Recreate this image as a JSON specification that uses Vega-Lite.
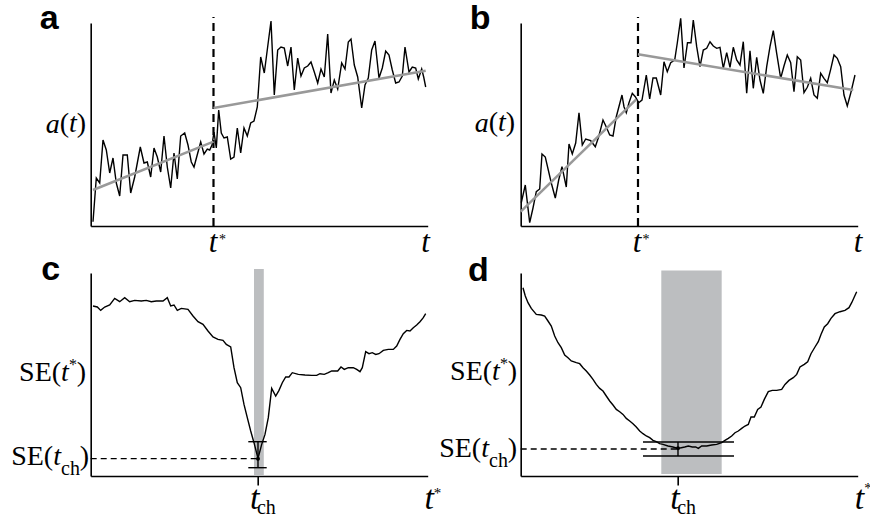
{
  "$schema": "https://vega.github.io/schema/vega-lite/v6.json",
  "padding": {"left": 10.7, "top": 1, "right": 0, "bottom": 0},
  "background": "white",
  "config": {
    "view": {"stroke": null},
    "title": {"anchor": "start", "frame": "group", "baseline": "alphabetic", "font": "Liberation Sans", "fontSize": 34, "fontWeight": "bold", "color": "black", "dy": 15},
    "axis": {"grid": false, "domainColor": "black", "domainWidth": 1.6, "labelFont": "Liberation Serif", "labelColor": "black", "labelOverlap": false, "labelFlush": false, "ticks": false}
  },
  "datasets": {
    "a_line": [
      {"t":2.3,"v":4.3},{"t":5.6,"v":48},{"t":9,"v":43},{"t":12.3,"v":86},{"t":15.6,"v":76},{"t":19,"v":53},{"t":22.3,"v":68},{"t":25.6,"v":43},{"t":29,"v":30},{"t":32.3,"v":71},{"t":36.6,"v":71},{"t":40,"v":33},{"t":44,"v":49},{"t":49.6,"v":79},{"t":53.3,"v":63},{"t":56.6,"v":64},{"t":60,"v":49},{"t":63.3,"v":78},{"t":66.6,"v":69},{"t":70,"v":54},{"t":73.3,"v":90},{"t":76.6,"v":59},{"t":80,"v":38},{"t":83.3,"v":73},{"t":86.6,"v":47},{"t":90,"v":90},{"t":94,"v":93},{"t":97.3,"v":81},{"t":100.6,"v":64},{"t":103.3,"v":59},{"t":110,"v":84},{"t":113.3,"v":72},{"t":116.6,"v":77},{"t":119,"v":76},{"t":121.3,"v":81},{"t":123.3,"v":94},{"t":125.6,"v":78},{"t":128,"v":116},{"t":130.6,"v":93},{"t":133.3,"v":88},{"t":136.6,"v":89},{"t":140,"v":67},{"t":143.3,"v":69},{"t":146.6,"v":98},{"t":150,"v":73},{"t":153.3,"v":98},{"t":156.6,"v":90},{"t":160,"v":103},{"t":163.3,"v":105},{"t":166.6,"v":119},{"t":170,"v":169},{"t":173.6,"v":153},{"t":180.3,"v":205},{"t":183.6,"v":131},{"t":187,"v":176},{"t":190.3,"v":179},{"t":193.6,"v":178},{"t":197,"v":160},{"t":200.3,"v":179},{"t":203.6,"v":136},{"t":207,"v":168},{"t":210.3,"v":150},{"t":213.6,"v":158},{"t":217,"v":160},{"t":220.3,"v":164},{"t":223.6,"v":154},{"t":227,"v":143},{"t":230.3,"v":157},{"t":233.6,"v":149},{"t":237,"v":192},{"t":240.3,"v":133},{"t":243.6,"v":146},{"t":247,"v":137},{"t":251,"v":163},{"t":254.3,"v":157},{"t":257.6,"v":184},{"t":260.3,"v":187},{"t":263.6,"v":161},{"t":267,"v":149},{"t":271,"v":118},{"t":274.3,"v":141},{"t":277.6,"v":148},{"t":281,"v":176},{"t":284.3,"v":185},{"t":288.3,"v":148},{"t":291.6,"v":158},{"t":295,"v":175},{"t":298.3,"v":171},{"t":301.6,"v":156},{"t":305,"v":143},{"t":308.3,"v":144},{"t":311.6,"v":150},{"t":314.3,"v":179},{"t":318.3,"v":154},{"t":321.6,"v":159},{"t":325,"v":158},{"t":327.6,"v":147},{"t":331,"v":157},{"t":333,"v":149},{"t":335,"v":139}
    ],
    "a_fit": [
      {"t":2.3,"v":36,"seg":1},{"t":122.8,"v":84.3,"seg":1},
      {"t":122.8,"v":118,"seg":2},{"t":335,"v":155.3,"seg":2}
    ],
    "b_line": [
      {"t":0.6,"v":23.3},{"t":4.6,"v":41},{"t":9,"v":3.3},{"t":12.3,"v":18},{"t":15.6,"v":34.3},{"t":19,"v":37},{"t":21.3,"v":72},{"t":24.6,"v":69},{"t":30.6,"v":43},{"t":34.6,"v":28},{"t":38,"v":46},{"t":41.3,"v":59.3},{"t":45.6,"v":39},{"t":48.3,"v":82},{"t":51.6,"v":72},{"t":55,"v":83},{"t":58.3,"v":113.3},{"t":61.6,"v":81},{"t":65,"v":87},{"t":70,"v":85.3},{"t":74.6,"v":79.3},{"t":78,"v":89.3},{"t":82.3,"v":106},{"t":85.6,"v":99},{"t":89,"v":91},{"t":92.3,"v":90},{"t":95.6,"v":109.3},{"t":101.3,"v":131},{"t":103.3,"v":119.3},{"t":105.6,"v":113.3},{"t":108.3,"v":123.3},{"t":111.6,"v":132.7},{"t":114.6,"v":129.3},{"t":118,"v":123.3},{"t":121.3,"v":126},{"t":125.6,"v":151},{"t":129,"v":127},{"t":132.3,"v":148},{"t":135.6,"v":148},{"t":140,"v":131},{"t":143.3,"v":164.3},{"t":146.6,"v":154.3},{"t":150,"v":163.3},{"t":154,"v":166},{"t":156.6,"v":183},{"t":160,"v":207.7},{"t":163.3,"v":158},{"t":166.8,"v":183.3},{"t":170.3,"v":183.3},{"t":172.6,"v":206},{"t":176,"v":179.3},{"t":179.3,"v":159.3},{"t":182.6,"v":176},{"t":186,"v":177.7},{"t":189.3,"v":184.3},{"t":192.6,"v":180},{"t":196,"v":177.7},{"t":199.3,"v":178.7},{"t":202.6,"v":157.7},{"t":206,"v":173.3},{"t":209.3,"v":158.7},{"t":212.6,"v":178.7},{"t":216,"v":166},{"t":219.3,"v":161},{"t":222.6,"v":184.3},{"t":226,"v":132.7},{"t":229.3,"v":175.3},{"t":232.6,"v":137.7},{"t":236,"v":168.7},{"t":239.3,"v":146},{"t":242.6,"v":132.7},{"t":246,"v":159.3},{"t":249.3,"v":179.3},{"t":252.6,"v":195.3},{"t":256,"v":172.7},{"t":260,"v":147.7},{"t":263.3,"v":160},{"t":266.6,"v":171},{"t":270,"v":163.3},{"t":273.3,"v":134.3},{"t":276.6,"v":169.3},{"t":280,"v":166},{"t":283.3,"v":133.3},{"t":286.6,"v":138.7},{"t":290,"v":147.7},{"t":293.3,"v":131},{"t":296.6,"v":127.7},{"t":300,"v":152.7},{"t":303.3,"v":147.7},{"t":306.6,"v":143.3},{"t":310,"v":156.7},{"t":313.3,"v":171},{"t":316.6,"v":167.7},{"t":320,"v":159.3},{"t":323.3,"v":131},{"t":326.6,"v":120},{"t":330,"v":132.7},{"t":334.3,"v":151}
    ],
    "b_fit": [
      {"t":0,"v":14.3,"seg":1},{"t":115.6,"v":126.7,"seg":1},
      {"t":117.3,"v":171.7,"seg":2},{"t":332.6,"v":136,"seg":2}
    ],
    "c_line": [
      {"t":2.3,"v":170},{"t":6.6,"v":169},{"t":10,"v":165.6},{"t":14,"v":169},{"t":19,"v":171},{"t":24,"v":177.6},{"t":29,"v":174.3},{"t":34,"v":178.3},{"t":39,"v":174.3},{"t":44,"v":175.6},{"t":50.6,"v":175},{"t":55.6,"v":175.6},{"t":60.6,"v":174.3},{"t":65.6,"v":175},{"t":72.3,"v":175},{"t":76.6,"v":178.3},{"t":80,"v":170},{"t":83.3,"v":171},{"t":86.6,"v":165.6},{"t":90.6,"v":167.6},{"t":97.3,"v":166.6},{"t":102.3,"v":160},{"t":107.3,"v":154.3},{"t":112.3,"v":151.6},{"t":117.3,"v":145},{"t":122.3,"v":139},{"t":127.3,"v":136.6},{"t":132.3,"v":135.6},{"t":135.6,"v":131.6},{"t":140,"v":129},{"t":143.3,"v":108.3},{"t":146.6,"v":93.3},{"t":150,"v":88.3},{"t":153.3,"v":71.6},{"t":156.6,"v":58.3},{"t":160,"v":45},{"t":163.3,"v":33.3},{"t":167.3,"v":17.6},{"t":171,"v":31.6},{"t":174.3,"v":41.6},{"t":177.6,"v":58.3},{"t":181,"v":87.6},{"t":185,"v":80},{"t":188.3,"v":85.6},{"t":191.6,"v":93.3},{"t":195,"v":99},{"t":198.3,"v":99},{"t":201.6,"v":103.3},{"t":207.6,"v":101.6},{"t":214.3,"v":101},{"t":221,"v":100.6},{"t":226,"v":100.6},{"t":229.3,"v":102.3},{"t":233.6,"v":101.6},{"t":237.6,"v":103.3},{"t":241,"v":105},{"t":247,"v":105},{"t":250.3,"v":109},{"t":253.6,"v":106.6},{"t":257.6,"v":108.3},{"t":262.6,"v":108.3},{"t":266,"v":106.6},{"t":269.3,"v":104.3},{"t":271.6,"v":108.3},{"t":275,"v":124.3},{"t":278.3,"v":122.3},{"t":281.6,"v":123.3},{"t":285,"v":121.6},{"t":288.3,"v":122.3},{"t":292.6,"v":125.6},{"t":297.6,"v":126.6},{"t":302.6,"v":126.6},{"t":306,"v":130},{"t":309.3,"v":136.6},{"t":312.6,"v":142.3},{"t":316,"v":145.6},{"t":319.3,"v":145},{"t":322.6,"v":148.3},{"t":326,"v":151},{"t":329.3,"v":154.3},{"t":332.6,"v":158.3},{"t":335,"v":162.3}
    ],
    "d_line": [
      {"t":2.3,"v":188.3},{"t":4.6,"v":180},{"t":7.3,"v":173.3},{"t":10.6,"v":167.6},{"t":15.6,"v":161.6},{"t":20.6,"v":161},{"t":24,"v":160},{"t":27.3,"v":155},{"t":30.6,"v":150},{"t":34,"v":140},{"t":37.3,"v":133.3},{"t":40.6,"v":128.3},{"t":44,"v":121},{"t":47.3,"v":118.3},{"t":50.6,"v":115},{"t":55.6,"v":113.3},{"t":59,"v":112.3},{"t":62.3,"v":108.3},{"t":65.6,"v":105},{"t":69,"v":101},{"t":72.3,"v":96.6},{"t":75.6,"v":91.6},{"t":79,"v":87.6},{"t":82.3,"v":85},{"t":85.6,"v":80},{"t":89,"v":75},{"t":92.3,"v":71},{"t":95.6,"v":66.6},{"t":99,"v":64.3},{"t":102.3,"v":61.6},{"t":105.6,"v":57.6},{"t":109,"v":55},{"t":112.3,"v":52.3},{"t":115.6,"v":49},{"t":119,"v":45},{"t":122.3,"v":42.3},{"t":125.6,"v":40},{"t":129,"v":38.3},{"t":132.3,"v":35.6},{"t":135.6,"v":34.3},{"t":139,"v":32.3},{"t":142.3,"v":31.6},{"t":147.3,"v":30},{"t":152.3,"v":29},{"t":157.3,"v":27.6},{"t":160.6,"v":28.3},{"t":164,"v":29},{"t":167.6,"v":30},{"t":171.6,"v":29},{"t":175,"v":29},{"t":177.6,"v":27.6},{"t":181,"v":30},{"t":186,"v":30},{"t":191,"v":31},{"t":196,"v":31.6},{"t":201,"v":33.3},{"t":204.3,"v":35.6},{"t":207.6,"v":37.6},{"t":211,"v":40},{"t":214.3,"v":43.3},{"t":217.6,"v":45},{"t":221,"v":47.6},{"t":224.3,"v":50},{"t":227.6,"v":51.6},{"t":230.3,"v":59},{"t":233.6,"v":59},{"t":237,"v":66.6},{"t":240.3,"v":69},{"t":243.6,"v":76.6},{"t":247.6,"v":84.3},{"t":251.6,"v":85.6},{"t":256,"v":85.6},{"t":261,"v":86.6},{"t":264.3,"v":91.6},{"t":268.3,"v":95.6},{"t":272.6,"v":98.3},{"t":276,"v":101.6},{"t":279.3,"v":109},{"t":283.6,"v":111.6},{"t":287,"v":114.3},{"t":290.3,"v":122.3},{"t":294.3,"v":129},{"t":297.6,"v":134.3},{"t":300.3,"v":141.6},{"t":303.6,"v":149},{"t":307,"v":152.3},{"t":310.3,"v":157.6},{"t":314.3,"v":162.3},{"t":319.3,"v":164.3},{"t":324.3,"v":165.6},{"t":328.3,"v":168.3},{"t":331,"v":173.3},{"t":333.6,"v":179},{"t":336,"v":184.3}
    ]
  },
  "concat": [
    {
      "width": 337, "height": 203,
      "title": {"text": "a", "dx": -51, "offset": -5},
      "resolve": {"axis": {"x": "independent", "y": "independent"}},
      "layer": [
        {
          "data": {"values": [{"t": 122.8, "lo": 0, "hi": 209}]},
          "mark": {"type": "rule", "strokeDash": [8, 5], "strokeWidth": 2.2, "color": "black"},
          "encoding": {
            "x": {"field": "t", "type": "quantitative", "scale": {"domain": [0, 337], "nice": false}, "axis": null},
            "y": {"field": "lo", "type": "quantitative", "scale": {"domain": [0, 203], "nice": false}, "axis": null},
            "y2": {"field": "hi"}
          }
        },
        {
          "data": {"name": "a_line"},
          "mark": {"type": "line", "color": "black", "strokeWidth": 1.4},
          "encoding": {
            "x": {"field": "t", "type": "quantitative", "scale": {"domain": [0, 337], "nice": false},
              "axis": {"orient": "bottom", "title": null, "values": [121.8, 131.3, 334.3],
                "labelExpr": "datum.value == 131.3 ? '*' : 't'",
                "labelAlign": "center", "labelBaseline": "alphabetic",
                "labelFontStyle": {"condition": {"test": "datum.value == 131.3", "value": "normal"}, "value": "italic"},
                "labelFontSize": {"condition": {"test": "datum.value == 131.3", "value": 14}, "value": 31},
                "labelPadding": {"condition": {"test": "datum.value == 131.3", "value": 17.8}, "value": 25.5}}},
            "y": {"field": "v", "type": "quantitative", "scale": {"domain": [0, 203], "nice": false},
              "axis": {"orient": "left", "title": null, "values": [102, 102.01, 102.02, 102.03],
                "labelExpr": "datum.value == 102 ? 'a' : datum.value == 102.01 ? '(' : datum.value == 102.02 ? 't' : ')'",
                "labelAlign": "right", "labelBaseline": "middle", "labelFontSize": 28,
                "labelFontStyle": {"condition": {"test": "datum.value == 102 || datum.value == 102.02", "value": "italic"}, "value": "normal"},
                "labelPadding": {"condition": [{"test": "datum.value == 102", "value": 31.4}, {"test": "datum.value == 102.01", "value": 22.1}, {"test": "datum.value == 102.02", "value": 14.3}], "value": 5}}}
          }
        },
        {
          "data": {"name": "a_fit"},
          "mark": {"type": "line", "color": "#999999", "strokeWidth": 2.5},
          "encoding": {
            "x": {"field": "t", "type": "quantitative", "scale": {"domain": [0, 337], "nice": false}, "axis": null},
            "y": {"field": "v", "type": "quantitative", "scale": {"domain": [0, 203], "nice": false}, "axis": null},
            "detail": {"field": "seg", "type": "nominal"}
          }
        }
      ]
    },
    {
      "width": 337, "height": 203,
      "title": {"text": "b", "dx": -51, "offset": -5},
      "resolve": {"axis": {"x": "independent", "y": "independent"}},
      "layer": [
        {
          "data": {"values": [{"t": 117.3, "lo": 0, "hi": 209}]},
          "mark": {"type": "rule", "strokeDash": [8, 5], "strokeWidth": 2.2, "color": "black"},
          "encoding": {
            "x": {"field": "t", "type": "quantitative", "scale": {"domain": [0, 337], "nice": false}, "axis": null},
            "y": {"field": "lo", "type": "quantitative", "scale": {"domain": [0, 203], "nice": false}, "axis": null},
            "y2": {"field": "hi"}
          }
        },
        {
          "data": {"name": "b_line"},
          "mark": {"type": "line", "color": "black", "strokeWidth": 1.4},
          "encoding": {
            "x": {"field": "t", "type": "quantitative", "scale": {"domain": [0, 337], "nice": false},
              "axis": {"orient": "bottom", "title": null, "values": [115.8, 124.8, 336.8],
                "labelExpr": "datum.value == 124.8 ? '*' : 't'",
                "labelAlign": "center", "labelBaseline": "alphabetic",
                "labelFontStyle": {"condition": {"test": "datum.value == 124.8", "value": "normal"}, "value": "italic"},
                "labelFontSize": {"condition": {"test": "datum.value == 124.8", "value": 14}, "value": 31},
                "labelPadding": {"condition": {"test": "datum.value == 124.8", "value": 17.8}, "value": 25.5}}},
            "y": {"field": "v", "type": "quantitative", "scale": {"domain": [0, 203], "nice": false},
              "axis": {"orient": "left", "title": null, "values": [103, 103.01, 103.02, 103.03],
                "labelExpr": "datum.value == 103 ? 'a' : datum.value == 103.01 ? '(' : datum.value == 103.02 ? 't' : ')'",
                "labelAlign": "right", "labelBaseline": "middle", "labelFontSize": 28,
                "labelFontStyle": {"condition": {"test": "datum.value == 103 || datum.value == 103.02", "value": "italic"}, "value": "normal"},
                "labelPadding": {"condition": [{"test": "datum.value == 103", "value": 32.4}, {"test": "datum.value == 103.01", "value": 23.1}, {"test": "datum.value == 103.02", "value": 15.3}], "value": 6}}}
          }
        },
        {
          "data": {"name": "b_fit"},
          "mark": {"type": "line", "color": "#999999", "strokeWidth": 2.5},
          "encoding": {
            "x": {"field": "t", "type": "quantitative", "scale": {"domain": [0, 337], "nice": false}, "axis": null},
            "y": {"field": "v", "type": "quantitative", "scale": {"domain": [0, 203], "nice": false}, "axis": null},
            "detail": {"field": "seg", "type": "nominal"}
          }
        }
      ]
    },
    {
      "width": 337, "height": 203,
      "title": {"text": "c", "dx": -49.5, "offset": -3},
      "resolve": {"axis": {"x": "independent", "y": "independent"}},
      "layer": [
        {
          "data": {"values": [{"x1": 163.3, "x2": 173.1, "y1": 0, "y2": 207}]},
          "mark": {"type": "rect", "color": "#bcbec0"},
          "encoding": {
            "x": {"field": "x1", "type": "quantitative", "scale": {"domain": [0, 337], "nice": false}, "axis": null},
            "x2": {"field": "x2"},
            "y": {"field": "y1", "type": "quantitative", "scale": {"domain": [0, 203], "nice": false}, "axis": null},
            "y2": {"field": "y2"}
          }
        },
        {
          "data": {"values": [{"y": 17.3, "x1": 0, "x2": 167.3}]},
          "mark": {"type": "rule", "strokeDash": [6, 4], "strokeWidth": 1.3, "color": "black"},
          "encoding": {
            "x": {"field": "x1", "type": "quantitative", "scale": {"domain": [0, 337], "nice": false}, "axis": null},
            "x2": {"field": "x2"},
            "y": {"field": "y", "type": "quantitative", "scale": {"domain": [0, 203], "nice": false}, "axis": null}
          }
        },
        {
          "data": {"name": "c_line"},
          "mark": {"type": "line", "color": "black", "strokeWidth": 1.4},
          "encoding": {
            "x": {"field": "t", "type": "quantitative", "scale": {"domain": [0, 337], "nice": false},
              "axis": {"orient": "bottom", "title": null, "values": [163.6, 167.3, 175.2, 336.9, 336.95],
                "ticks": true, "tickSize": 9, "tickWidth": 1.6, "tickColor": "black",
                "tickOpacity": {"condition": {"test": "datum.value == 167.3", "value": 1}, "value": 0},
                "labelExpr": "datum.value == 163.6 ? 't' : datum.value == 175.2 ? 'ch' : datum.value == 336.9 ? 't' : datum.value == 336.95 ? '*' : ''",
                "labelAlign": "center", "labelBaseline": "alphabetic",
                "labelFontStyle": {"condition": {"test": "datum.value == 163.6 || datum.value == 336.9", "value": "italic"}, "value": "normal"},
                "labelFontSize": {"condition": [{"test": "datum.value == 175.2", "value": 20}, {"test": "datum.value == 336.95", "value": 15}], "value": 34},
                "labelOffset": {"condition": [{"test": "datum.value == 336.9", "value": 1}, {"test": "datum.value == 336.95", "value": 9.4}], "value": 0},
                "labelPadding": {"condition": [{"test": "datum.value == 175.2", "value": 28.5}, {"test": "datum.value == 336.95", "value": 13}], "value": 24}}},
            "y": {"field": "v", "type": "quantitative", "scale": {"domain": [0, 203], "nice": false},
              "axis": {"orient": "left", "title": null, "values": [103.5, 103.51, 111.5, 103.53, 19.6, 19.61, 7.3, 19.63],
                "labelExpr": "datum.value == 103.5 || datum.value == 19.6 ? 'SE(' : datum.value == 103.51 || datum.value == 19.61 ? 't' : datum.value == 111.5 ? '*' : datum.value == 7.3 ? 'ch' : ')'",
                "labelAlign": "right", "labelBaseline": "middle",
                "labelFontStyle": {"condition": {"test": "datum.value == 103.51 || datum.value == 19.61", "value": "italic"}, "value": "normal"},
                "labelFontSize": {"condition": [{"test": "datum.value == 111.5", "value": 16}, {"test": "datum.value == 7.3", "value": 20}], "value": 28},
                "labelPadding": {"condition": [{"test": "datum.value == 103.5", "value": 30.1}, {"test": "datum.value == 103.51", "value": 22.3}, {"test": "datum.value == 111.5", "value": 14.3}, {"test": "datum.value == 103.53", "value": 5}, {"test": "datum.value == 19.6", "value": 38}, {"test": "datum.value == 19.61", "value": 30.2}, {"test": "datum.value == 7.3", "value": 11.3}], "value": 2}}}
          }
        },
        {
          "data": {"values": [{"y": 34.3, "x1": 157.6, "x2": 176}, {"y": 8.3, "x1": 157.6, "x2": 176}]},
          "mark": {"type": "rule", "strokeWidth": 1.4, "color": "black"},
          "encoding": {
            "x": {"field": "x1", "type": "quantitative", "scale": {"domain": [0, 337], "nice": false}, "axis": null},
            "x2": {"field": "x2"},
            "y": {"field": "y", "type": "quantitative", "scale": {"domain": [0, 203], "nice": false}, "axis": null}
          }
        },
        {
          "data": {"values": [{"x": 167.3, "y1": 8.3, "y2": 34.3}]},
          "mark": {"type": "rule", "strokeWidth": 1.4, "color": "black"},
          "encoding": {
            "x": {"field": "x", "type": "quantitative", "scale": {"domain": [0, 337], "nice": false}, "axis": null},
            "y": {"field": "y1", "type": "quantitative", "scale": {"domain": [0, 203], "nice": false}, "axis": null},
            "y2": {"field": "y2"}
          }
        },
        {
          "data": {"values": [{"x": 167.3, "y": 17.3}]},
          "mark": {"type": "circle", "size": 16, "color": "black", "opacity": 1},
          "encoding": {
            "x": {"field": "x", "type": "quantitative", "scale": {"domain": [0, 337], "nice": false}, "axis": null},
            "y": {"field": "y", "type": "quantitative", "scale": {"domain": [0, 203], "nice": false}, "axis": null}
          }
        }
      ]
    },
    {
      "width": 337, "height": 203,
      "title": {"text": "d", "dx": -52.7, "offset": -3},
      "resolve": {"axis": {"x": "independent", "y": "independent"}},
      "layer": [
        {
          "data": {"values": [{"x1": 140.6, "x2": 201, "y1": 2, "y2": 205.6}]},
          "mark": {"type": "rect", "color": "#bcbec0"},
          "encoding": {
            "x": {"field": "x1", "type": "quantitative", "scale": {"domain": [0, 337], "nice": false}, "axis": null},
            "x2": {"field": "x2"},
            "y": {"field": "y1", "type": "quantitative", "scale": {"domain": [0, 203], "nice": false}, "axis": null},
            "y2": {"field": "y2"}
          }
        },
        {
          "data": {"values": [{"y": 27, "x1": 0, "x2": 157.3}]},
          "mark": {"type": "rule", "strokeDash": [6, 4], "strokeWidth": 1.3, "color": "black"},
          "encoding": {
            "x": {"field": "x1", "type": "quantitative", "scale": {"domain": [0, 337], "nice": false}, "axis": null},
            "x2": {"field": "x2"},
            "y": {"field": "y", "type": "quantitative", "scale": {"domain": [0, 203], "nice": false}, "axis": null}
          }
        },
        {
          "data": {"name": "d_line"},
          "mark": {"type": "line", "color": "black", "strokeWidth": 1.4},
          "encoding": {
            "x": {"field": "t", "type": "quantitative", "scale": {"domain": [0, 337], "nice": false},
              "axis": {"orient": "bottom", "title": null, "values": [153.8, 157.3, 165.4, 336.9, 336.95],
                "ticks": true, "tickSize": 9, "tickWidth": 1.6, "tickColor": "black",
                "tickOpacity": {"condition": {"test": "datum.value == 157.3", "value": 1}, "value": 0},
                "labelExpr": "datum.value == 153.8 ? 't' : datum.value == 165.4 ? 'ch' : datum.value == 336.9 ? 't' : datum.value == 336.95 ? '*' : ''",
                "labelAlign": "center", "labelBaseline": "alphabetic",
                "labelFontStyle": {"condition": {"test": "datum.value == 153.8 || datum.value == 336.9", "value": "italic"}, "value": "normal"},
                "labelFontSize": {"condition": [{"test": "datum.value == 165.4", "value": 20}, {"test": "datum.value == 336.95", "value": 15}], "value": 34},
                "labelOffset": {"condition": [{"test": "datum.value == 336.9", "value": 1.4}, {"test": "datum.value == 336.95", "value": 9.9}], "value": 0},
                "labelPadding": {"condition": [{"test": "datum.value == 165.4", "value": 28.5}, {"test": "datum.value == 336.95", "value": 8}], "value": 24}}},
            "y": {"field": "v", "type": "quantitative", "scale": {"domain": [0, 203], "nice": false},
              "axis": {"orient": "left", "title": null, "values": [104.3, 104.31, 112.3, 104.33, 27.6, 27.61, 15.3, 27.63],
                "labelExpr": "datum.value == 104.3 || datum.value == 27.6 ? 'SE(' : datum.value == 104.31 || datum.value == 27.61 ? 't' : datum.value == 112.3 ? '*' : datum.value == 15.3 ? 'ch' : ')'",
                "labelAlign": "right", "labelBaseline": "middle",
                "labelFontStyle": {"condition": {"test": "datum.value == 104.31 || datum.value == 27.61", "value": "italic"}, "value": "normal"},
                "labelFontSize": {"condition": [{"test": "datum.value == 112.3", "value": 16}, {"test": "datum.value == 15.3", "value": 20}], "value": 28},
                "labelPadding": {"condition": [{"test": "datum.value == 104.3", "value": 29.1}, {"test": "datum.value == 104.31", "value": 21.3}, {"test": "datum.value == 112.3", "value": 13.3}, {"test": "datum.value == 104.33", "value": 4}, {"test": "datum.value == 27.6", "value": 40}, {"test": "datum.value == 27.61", "value": 32.2}, {"test": "datum.value == 15.3", "value": 13.3}], "value": 4}}}
          }
        },
        {
          "data": {"values": [{"y": 34, "x1": 122.3, "x2": 213.3}, {"y": 20, "x1": 122.3, "x2": 213.3}]},
          "mark": {"type": "rule", "strokeWidth": 1.4, "color": "black"},
          "encoding": {
            "x": {"field": "x1", "type": "quantitative", "scale": {"domain": [0, 337], "nice": false}, "axis": null},
            "x2": {"field": "x2"},
            "y": {"field": "y", "type": "quantitative", "scale": {"domain": [0, 203], "nice": false}, "axis": null}
          }
        },
        {
          "data": {"values": [{"x": 157.3, "y1": 20, "y2": 34}]},
          "mark": {"type": "rule", "strokeWidth": 1.4, "color": "black"},
          "encoding": {
            "x": {"field": "x", "type": "quantitative", "scale": {"domain": [0, 337], "nice": false}, "axis": null},
            "y": {"field": "y1", "type": "quantitative", "scale": {"domain": [0, 203], "nice": false}, "axis": null},
            "y2": {"field": "y2"}
          }
        },
        {
          "data": {"values": [{"x": 157.3, "y": 27.8}]},
          "mark": {"type": "circle", "size": 16, "color": "black", "opacity": 1},
          "encoding": {
            "x": {"field": "x", "type": "quantitative", "scale": {"domain": [0, 337], "nice": false}, "axis": null},
            "y": {"field": "y", "type": "quantitative", "scale": {"domain": [0, 203], "nice": false}, "axis": null}
          }
        }
      ]
    }
  ],
  "columns": 2,
  "spacing": {"row": 47, "column": 93},
  "bounds": "flush"
}
